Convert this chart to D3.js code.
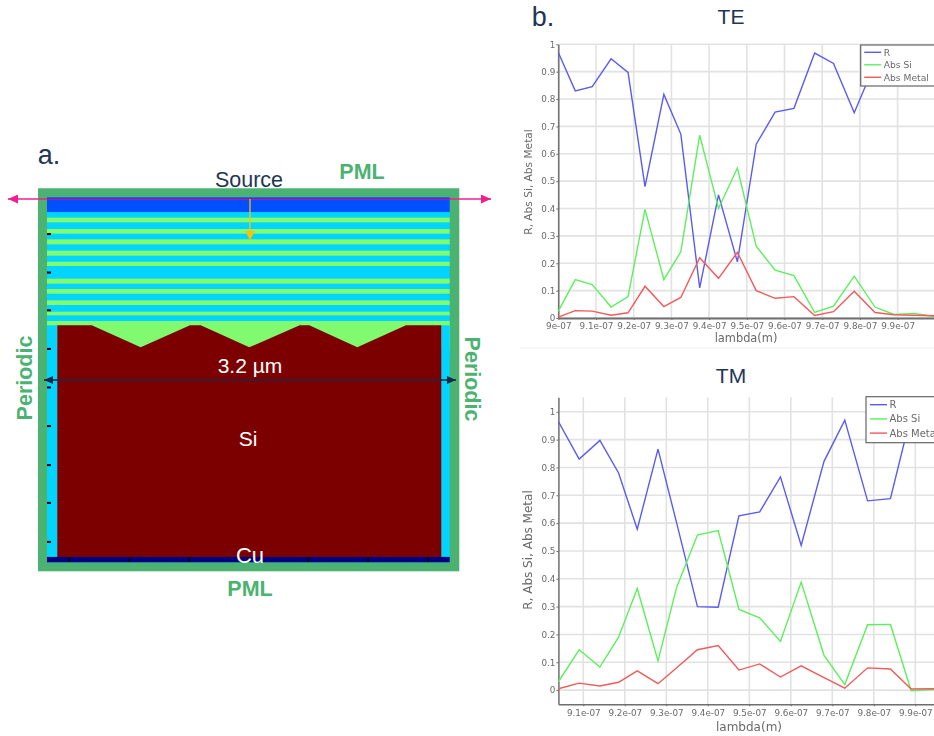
<!DOCTYPE html>
<html><head><meta charset="utf-8">
<script src="https://cdn.jsdelivr.net/npm/d3@7"></script>
<style>html,body{margin:0;padding:0;background:#fff}svg{display:block}</style></head>
<body><svg id="c" width="934" height="736"></svg>
<script>
// ---- chart data (lambda in units of 1e-7 m)
const lambdaTE=[9.0,9.045,9.09,9.14,9.185,9.23,9.28,9.325,9.375,9.425,9.475,9.525,9.575,9.625,9.68,9.73,9.785,9.84,9.89,9.945,10.0];
const teR=[.97,.83,.845,.947,.897,.48,.817,.672,.11,.45,.205,.635,.752,.766,.968,.93,.75,.93,.95,.96,.97];
const teSi=[.025,.14,.122,.04,.078,.397,.14,.242,.668,.4,.548,.262,.175,.155,.02,.043,.153,.04,.013,.017,.005];
const teMetal=[.003,.027,.025,.01,.019,.116,.042,.075,.22,.145,.24,.1,.072,.078,.009,.023,.098,.02,.012,.01,.008];
const lambdaTM=[9.04,9.09,9.14,9.185,9.23,9.28,9.325,9.375,9.425,9.475,9.525,9.575,9.625,9.68,9.73,9.785,9.84,9.89,9.945];
const tmR=[.965,.83,.897,.78,.578,.866,.6,.3,.298,.626,.64,.766,.52,.822,.97,.68,.688,.99,.99];
const tmSi=[.03,.145,.083,.19,.365,.105,.37,.557,.573,.29,.26,.175,.388,.125,.02,.235,.236,-.002,.002];
const tmMetal=[.005,.025,.015,.028,.069,.023,.08,.145,.16,.072,.094,.047,.087,.045,.007,.08,.076,.004,.005];
const seriesNames=["R","Abs Si","Abs Metal"];
const seriesColors=["#5a5cf0","#5cf05c","#f25a5a"];
const xTicksTE=[9,9.1,9.2,9.3,9.4,9.5,9.6,9.7,9.8,9.9];
const xTicksTM=[9.1,9.2,9.3,9.4,9.5,9.6,9.7,9.8,9.9];
const yTicks=[0,.1,.2,.3,.4,.5,.6,.7,.8,.9,1];
// ---- device structure (micrometres; x from Si left edge, y = depth below Si top)
const oxideGreenStripes=[[-.897,-.858],[-.8025,-.7636],[-.7164,-.6747],[-.622,-.58],[-.53,-.494],[-.3886,-.347],[-.3025,-.2636],[-.208,-.169],[-.1136,-.083],[-.036,0.2]];
const siSurface=[[0,0],[.287,0],[.695,.183],[1.106,0],[1.195,0],[1.6,.183],[2.02,0],[2.1,0],[2.5,.183],[2.905,0],[3.2,0]];
const leftTickDepths=[-.76,-.44,-.125,.197,.518,.84,1.165,1.48,1.805];
const bottomTickXs=[.1,.6,1.096,1.594,2.09,2.59,3.09];

const svg=d3.select("#c");
const navy="#1f3556", pmlGreen="#4cb272";
const X=d3.scaleLinear().domain([0,3.2]).range([57.3,441.3]);
const Y=d3.scaleLinear().domain([0,1]).range([325.3,445.3]);
const rectUm=(g,x0,x1,y0,y1,fill)=>g.append("rect").attr("x",X(x0)).attr("y",Y(y0)).attr("width",X(x1)-X(x0)).attr("height",Y(y1)-Y(y0)).attr("fill",fill);

// defs
const defs=svg.append("defs");
const mk=(id,c,w,h)=>defs.append("marker").attr("id",id).attr("viewBox",`0 0 ${w} ${h}`).attr("refX",w).attr("refY",h/2)
  .attr("markerWidth",w).attr("markerHeight",h).attr("markerUnits","userSpaceOnUse").attr("orient","auto-start-reverse")
  .append("path").attr("d",`M0,0L${w},${h/2}L0,${h}Z`).attr("fill",c);
mk("pink","#f01f8f",10,9);mk("yel","#ffc000",9,10);mk("nav","#16284a",9,8);
defs.append("clipPath").attr("id","clipTE").append("rect").attr("x",558).attr("y",40).attr("width",376).attr("height",280);
defs.append("clipPath").attr("id","clipTM").append("rect").attr("x",558).attr("y",397).attr("width",376).attr("height",308);

// ---- panel a
const a=svg.append("g").style("filter","blur(0.3px)");
rectUm(a,-.161,3.35,-1.142,2.05,pmlGreen);
rectUm(a,-.0858,3.27,-1.067,1.975,"#00d4ff");
rectUm(a,-.0858,3.27,-1.067,-.944,"#0050ff");
a.selectAll("rect.st").data(oxideGreenStripes).join("rect").attr("class","st")
 .attr("x",X(-.0858)).attr("width",X(3.27)-X(-.0858)).attr("y",d=>Y(d[0])).attr("height",d=>Y(d[1])-Y(d[0])).attr("fill","#80fb70");
rectUm(a,-.0858,0,0,.25,"#00d4ff");
rectUm(a,3.2,3.27,0,.25,"#00d4ff");
const bottomEdge=1.93;
a.append("path").attr("fill","#7d0000").attr("d",d3.line().x(d=>X(d[0])).y(d=>Y(d[1]))(siSurface.concat([[3.2,bottomEdge],[0,bottomEdge]]))+"Z");
rectUm(a,-.0858,3.27,bottomEdge,1.975,"#000080");
a.selectAll("rect.lt").data(leftTickDepths).join("rect").attr("class","lt").attr("x",X(-.0858)).attr("width",4).attr("y",d=>Y(d)-1).attr("height",2).attr("fill","#000");
a.selectAll("rect.bt").data(bottomTickXs).join("rect").attr("class","bt").attr("x",d=>X(d)-.75).attr("width",1.5).attr("y",Y(bottomEdge)+.5).attr("height",4.5).attr("fill","#000");
// arrows
a.append("line").attr("x1",491).attr("x2",8).attr("y1",199).attr("y2",199).attr("stroke","#f01f8f").attr("stroke-width",1.3).attr("marker-end","url(#pink)").attr("marker-start","url(#pink)");
a.append("line").attr("x1",X(-.0858)).attr("x2",X(3.27)).attr("y1",198.8).attr("y2",198.8).attr("stroke","#7a1fa8").attr("stroke-width",1.6);
a.append("line").attr("x1",250).attr("x2",250).attr("y1",199).attr("y2",240).attr("stroke","#ffc000").attr("stroke-width",1.3).attr("marker-end","url(#yel)");
a.append("line").attr("x1",44).attr("x2",456).attr("y1",380).attr("y2",380).attr("stroke","#16284a").attr("stroke-width",1.3).attr("marker-end","url(#nav)").attr("marker-start","url(#nav)");
// labels
const lab=(x,y,t,size,fill,weight,rot)=>{const e=svg.append("text").attr("text-anchor","middle").attr("dominant-baseline","central")
  .attr("font-family","'Liberation Sans',Arial,sans-serif").attr("font-size",size).attr("fill",fill).attr("font-weight",weight||"normal").text(t);
  e.attr("transform",`translate(${x},${y})`+(rot?` rotate(${rot})`:""));return e;};
lab(49,155,"a.",27,navy);
lab(249,180,"Source",21.5,navy);
lab(362,172,"PML",21.5,pmlGreen,"bold");
lab(250,589,"PML",21.5,pmlGreen,"bold");
lab(25,378,"Periodic",21.5,pmlGreen,"bold",-90);
lab(472,379,"Periodic",21.5,pmlGreen,"bold",90);
lab(250,365,"3.2 µm",21,"#fff");
lab(248,438,"Si",21,"#fff");
lab(250,555,"Cu",22,"#fff");
lab(543,17,"b.",27,navy);
lab(731,16,"TE",21,navy);
lab(731,375,"TM",21,navy);
svg.append("line").attr("x1",520).attr("x2",934).attr("y1",348).attr("y2",348).attr("stroke","#eeeeee").attr("stroke-width",1);

// ---- panel b charts
function chart(o){
  const g=svg.append("g").style("filter","blur(0.35px)");
  const x=d3.scaleLinear().domain(o.xd).range(o.xr);
  const y=d3.scaleLinear().domain(o.yd).range(o.yr);
  const font="'DejaVu Sans',sans-serif", tc="#6a6a6a";
  g.append("g").selectAll("line").data(o.xt).join("line").attr("x1",d=>x(d)).attr("x2",d=>x(d)).attr("y1",o.yr[0]).attr("y2",o.yr[1]).attr("stroke","#e2e2e2").attr("stroke-width",1.6);
  g.append("g").selectAll("line").data(yTicks).join("line").attr("x1",o.xr[0]).attr("x2",934).attr("y1",d=>y(d)).attr("y2",d=>y(d)).attr("stroke","#e2e2e2").attr("stroke-width",1.6);
  const ax=d3.axisBottom(x).tickValues(o.xt).tickSizeInner(2).tickSizeOuter(0).tickPadding(3).tickFormat(d=>(d===9?"9":d.toFixed(1))+"e-07");
  const gx=g.append("g").attr("transform",`translate(0,${o.yr[0]})`).call(ax);
  const ay=d3.axisLeft(y).tickValues(yTicks).tickSizeInner(2).tickSizeOuter(0).tickPadding(1).tickFormat(d=>d===0?"0":d===1?"1":d.toFixed(1));
  const gy=g.append("g").attr("transform",`translate(${o.xr[0]},0)`).call(ay);
  [gx,gy].forEach(s=>{s.selectAll("text").attr("font-family",font).attr("font-size",8.8).attr("fill",tc);
    s.selectAll(".domain").attr("stroke","#6f6f6f").attr("stroke-width",1.5);s.selectAll(".tick line").attr("stroke","#6f6f6f");});
  gx.select(".domain").attr("stroke-width",o.bw);
  const cur=g.append("g").attr("clip-path",`url(#${o.clip})`);
  const line=d3.line().x((d,i)=>x(o.l[i])).y(d=>y(d));
  o.s.forEach((v,i)=>cur.append("path").attr("d",line(v)).attr("fill","none").attr("stroke",seriesColors[i]).attr("stroke-width",1.4));
  g.append("text").attr("transform",`translate(${o.ylx},${o.yly}) rotate(-90)`).attr("text-anchor","middle").attr("dominant-baseline","central").attr("font-family",font).attr("font-size",o.lfs).attr("fill",tc).text("R, Abs Si, Abs Metal");
  g.append("text").attr("x",o.xlx).attr("y",o.xly).attr("text-anchor","middle").attr("dominant-baseline","central").attr("font-family",font).attr("font-size",o.xfs).attr("fill",tc).text("lambda(m)");
  const lg=g.append("g");
  lg.append("rect").attr("x",o.lx).attr("y",o.ly).attr("width",940-o.lx).attr("height",o.lh).attr("fill","#fff").attr("stroke","#666").attr("stroke-width",1.2);
  seriesNames.forEach((n,i)=>{const ry=o.ly+o.r0+i*o.dr;
    lg.append("line").attr("x1",o.lx+o.pad).attr("x2",o.lx+o.pad+17).attr("y1",ry).attr("y2",ry).attr("stroke",seriesColors[i]).attr("stroke-width",1.4);
    lg.append("text").attr("x",o.lx+o.pad+19.5).attr("y",ry).attr("dominant-baseline","central").attr("font-family",font).attr("font-size",o.lgfs).attr("fill",tc).text(n);});
}
chart({xd:[9,10],xr:[558.3,935.3],yd:[0,1],yr:[318,44.3],xt:xTicksTE,l:lambdaTE,s:[teR,teSi,teMetal],clip:"clipTE",bw:1.8,
  ylx:528,yly:182,lfs:10.6,xlx:746,xly:338,xfs:11.4,lx:860.7,ly:45,lh:41,r0:7.3,dr:12.5,pad:3.5,lgfs:9.2});
chart({xd:[9.04,9.945],xr:[558.4,934],yd:[-.051,1.052],yr:[704.3,397.3],xt:xTicksTM,l:lambdaTM,s:[tmR,tmSi,tmMetal],clip:"clipTM",bw:1.4,
  ylx:528,yly:550,lfs:12,xlx:749,xly:727,xfs:12,lx:866,ly:396.7,lh:46,r0:8,dr:14.2,pad:4,lgfs:10});
</script></body></html>
